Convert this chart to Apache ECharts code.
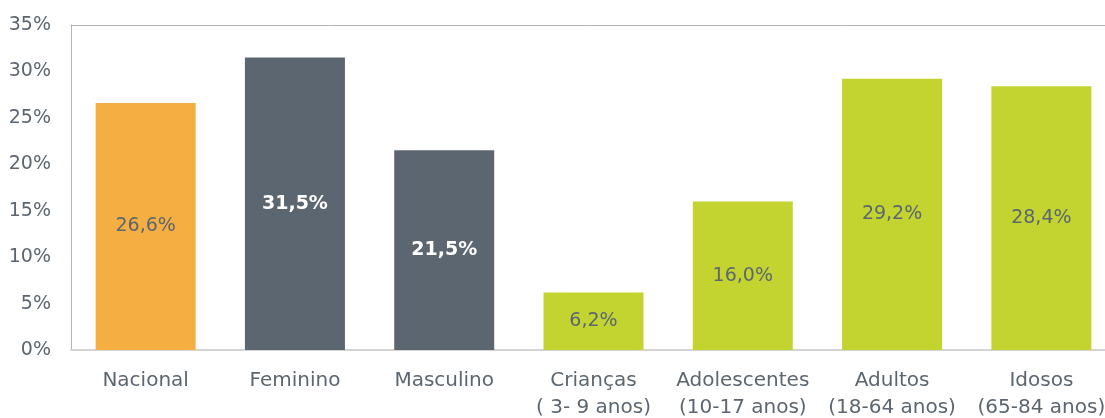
<!DOCTYPE html>
<html>
<head>
<meta charset="utf-8">
<script src="https://cdn.jsdelivr.net/npm/echarts@6/dist/echarts.min.js"></script>
<style>
  html, body { margin: 0; padding: 0; background: #fff; }
  #chart { width: 1105px; height: 418px; }
</style>
</head>
<body>
<div id="chart"></div>
<script>
// categories and values
const categories = ['Nacional', 'Feminino', 'Masculino', 'Crianças\n( 3- 9 anos)', 'Adolescentes\n(10-17 anos)', 'Adultos\n(18-64 anos)', 'Idosos\n(65-84 anos)']
const values = [26.6, 31.5, 21.5, 6.2, 16.0, 29.2, 28.4]
const barColors = ['#f5ae42', '#5c6670', '#5c6670', '#c3d430', '#c3d430', '#c3d430', '#c3d430']
const boldLabel = [false, true, true, false, false, false, false]

const textGray = '#5c6670'
const fontFam = '"DejaVu Sans", Verdana, sans-serif'

const chart = echarts.init(document.getElementById('chart'))

const option = {
    animation: false,
    grid: {
        left: 71,
        right: -11,
        top: 25,
        bottom: 68,
        outerBoundsMode: 'none',
        containLabel: false
    },
    xAxis: [{
        type: 'category',
        data: categories,
        axisLine: { lineStyle: { color: '#d4d4d4', width: 2 } },
        axisTick: { show: false },
        axisLabel: {
            color: textGray,
            fontFamily: fontFam,
            fontSize: 20,
            lineHeight: 27,
            margin: 17,
            interval: 0
        }
    }, {
        // top border of the plot box
        type: 'category',
        position: 'top',
        data: categories,
        axisLine: { lineStyle: { color: '#b5b5b5', width: 1 } },
        axisTick: { show: false },
        axisLabel: { show: false }
    }],
    yAxis: {
        type: 'value',
        min: 0,
        max: 35,
        interval: 5,
        splitLine: { show: false },
        axisLine: { show: true, lineStyle: { color: '#b5b5b5' } },
        axisTick: { show: false },
        axisLabel: {
            color: textGray,
            fontFamily: fontFam,
            fontSize: 19,
            margin: 20,
            formatter: '{value}%'
        }
    },
    series: [{
        type: 'bar',
        barWidth: 100,
        data: values.map((v, i) => ({
            value: v,
            itemStyle: { color: barColors[i] },
            label: {
                color: boldLabel[i] ? '#ffffff' : textGray,
                fontWeight: boldLabel[i] ? 'bold' : 'normal'
            }
        })),
        label: {
            show: true,
            position: 'inside',
            fontFamily: fontFam,
            fontSize: 19,
            formatter: p => p.value.toFixed(1).replace('.', ',') + '%'
        }
    }]
}

chart.setOption(option)
</script>
</body>
</html>
